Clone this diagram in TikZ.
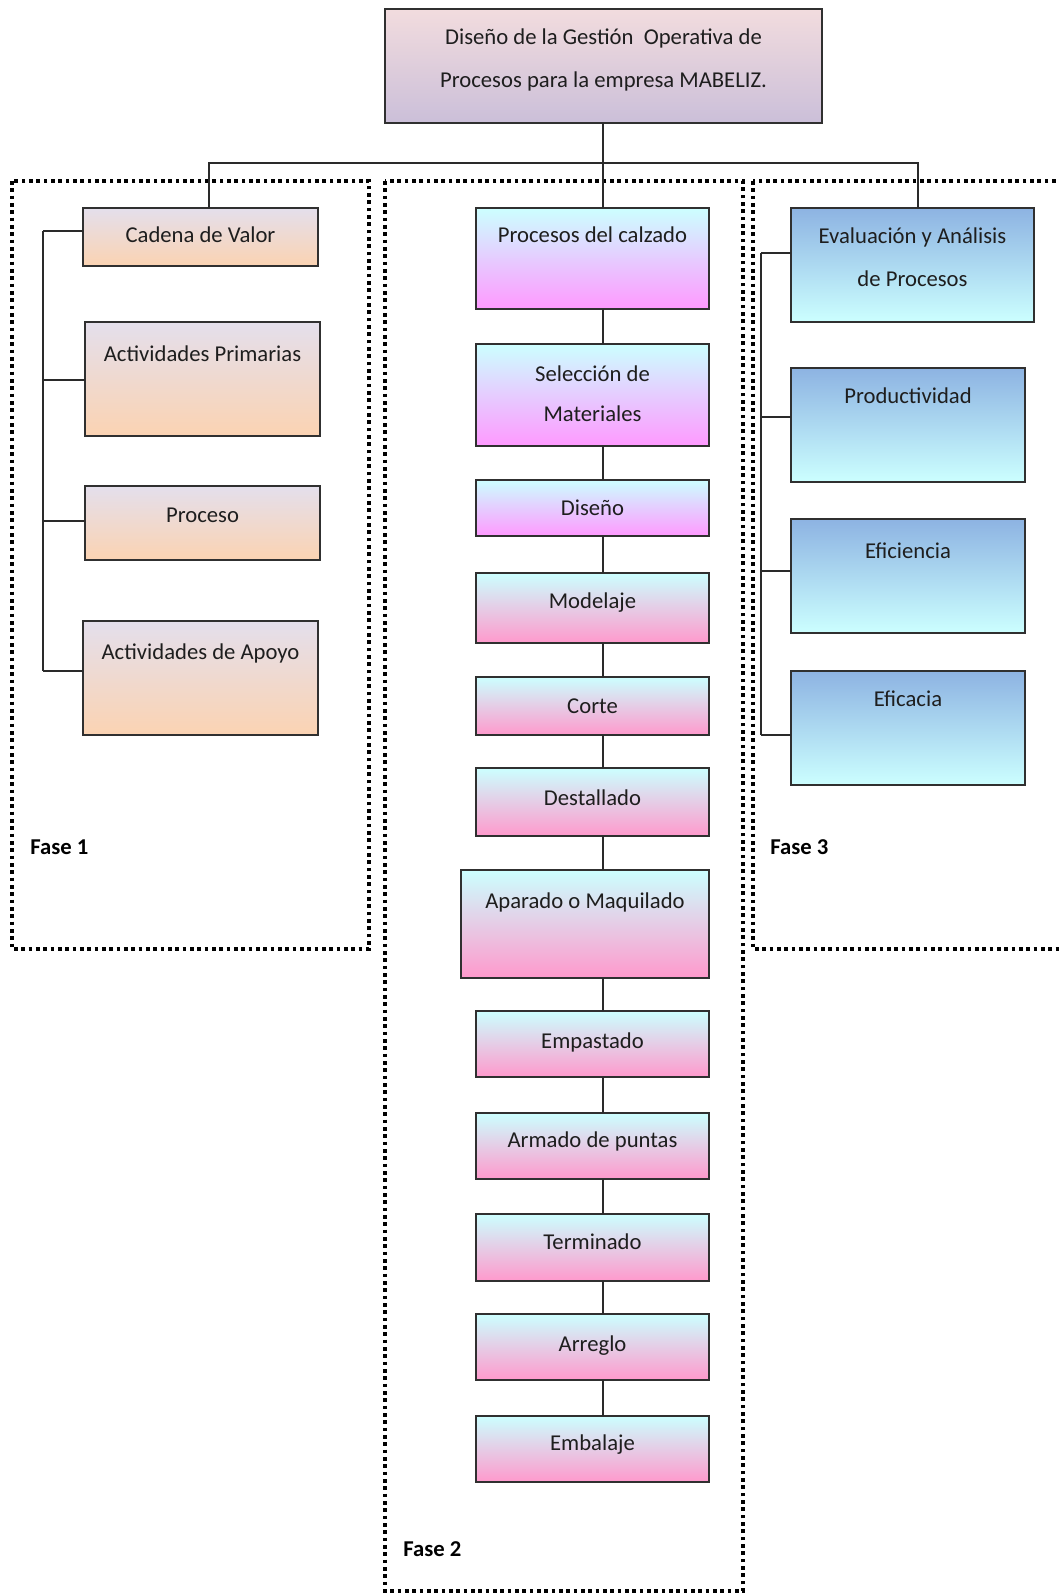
\documentclass[tikz,border=0pt]{standalone}
\usepackage{fontspec}
\setmainfont{Carlito}
\definecolor{ink}{HTML}{1E1E1E}
\definecolor{boxline}{HTML}{303030}
\definecolor{linkc}{HTML}{2A2A2A}
\definecolor{headtop}{HTML}{F2DCDE}
\definecolor{headbot}{HTML}{CBBFD9}
\definecolor{peachtop}{HTML}{E4DFEC}
\definecolor{peachbot}{HTML}{FBD3B2}
\definecolor{cyantop}{HTML}{CCFFFF}
\definecolor{magbot}{HTML}{FF99FF}
\definecolor{pinkbot}{HTML}{FF99CC}
\definecolor{bluetop}{HTML}{8DB3E2}
\definecolor{bluebot}{HTML}{CCFFFF}
\tikzset{
  box/.style={draw=boxline, line width=1pt, inner sep=0pt, outer sep=0pt},
  headbox/.style={box, top color=headtop, bottom color=headbot},
  valuebox/.style={box, top color=peachtop, bottom color=peachbot},
  designbox/.style={box, top color=cyantop, bottom color=magbot},
  makebox/.style={box, top color=cyantop, bottom color=pinkbot},
  evalbox/.style={box, top color=bluetop, bottom color=bluebot},
  lbl/.style={font=\fontsize{17}{20}\selectfont, text=ink, inner sep=0pt, anchor=base},
  phase/.style={font=\fontsize{17}{20}\selectfont\bfseries, text=black, inner sep=0pt, anchor=base west},
  link/.style={draw=linkc, line width=1pt},
  zone/.style={draw=black, line width=2.7pt, dash pattern=on 2.7pt off 2.8pt},
}
% box: name, left, top, right, bottom, style
\newcommand\stagebox[6]{%
  \node[#6, anchor=north west, minimum width={(#4-#2)*0.75pt},
        minimum height={(#5-#3)*0.75pt}] (#1) at (#2,#3) {};}
% caption of a box: name, baseline y, text
\newcommand\stagetext[3]{%
  \node[lbl] (#1-t) at (#1.north |- 0,#2) {#3};}
\begin{document}
\begin{tikzpicture}[x=0.75pt,y=-0.75pt]
\useasboundingbox (0,0) rectangle (1059,1594);
\clip (0,0) rectangle (1059,1594);

% phase frames
\draw[zone] (12,181) rectangle (369,949);
\draw[zone] (385,181) rectangle (743,1591);
\draw[zone] (753,181) rectangle (1075,949);

% title
\stagebox{head}{385}{9}{822}{123}{headbox}
\node[lbl] (head-t) at (603.5,45)
  {\begin{tabular}[t]{@{}c@{}}Diseño de la Gestión~ Operativa de\\[12pt]Procesos para la empresa MABELIZ.\end{tabular}};

% phase 1
\stagebox{cadena}{83}{208}{318}{266}{valuebox}
\stagebox{primarias}{85}{322}{320}{436}{valuebox}
\stagebox{proceso}{85}{486}{320}{560}{valuebox}
\stagebox{apoyo}{83}{621}{318}{735}{valuebox}
\stagetext{cadena}{243}{Cadena de Valor}
\stagetext{primarias}{361}{Actividades Primarias}
\stagetext{proceso}{522}{Proceso}
\stagetext{apoyo}{659}{Actividades de Apoyo}

% phase 2
\stagebox{calzado}{476}{208}{709}{309}{designbox}
\stagebox{seleccion}{476}{344}{709}{446}{designbox}
\stagebox{diseno}{476}{480}{709}{536}{designbox}
\stagebox{modelaje}{476}{573}{709}{643}{makebox}
\stagebox{corte}{476}{677}{709}{735}{makebox}
\stagebox{destallado}{476}{768}{709}{836}{makebox}
\stagebox{aparado}{461}{870}{709}{978}{makebox}
\stagebox{empastado}{476}{1011}{709}{1077}{makebox}
\stagebox{armado}{476}{1113}{709}{1179}{makebox}
\stagebox{terminado}{476}{1214}{709}{1281}{makebox}
\stagebox{arreglo}{476}{1314}{709}{1380}{makebox}
\stagebox{embalaje}{476}{1416}{709}{1482}{makebox}
\stagetext{calzado}{243}{Procesos del calzado}
\node[lbl] (seleccion-t) at (seleccion.north |- 0,381)
  {\begin{tabular}[t]{@{}c@{}}Selección de\\[10pt]Materiales\end{tabular}};
\stagetext{diseno}{515}{Diseño}
\stagetext{modelaje}{608}{Modelaje}
\stagetext{corte}{713}{Corte}
\stagetext{destallado}{805}{Destallado}
\stagetext{aparado}{908}{Aparado o Maquilado}
\stagetext{empastado}{1048}{Empastado}
\stagetext{armado}{1147}{Armado de puntas}
\stagetext{terminado}{1249}{Terminado}
\stagetext{arreglo}{1351}{Arreglo}
\stagetext{embalaje}{1450}{Embalaje}

% phase 3
\stagebox{evaluacion}{791}{208}{1034}{322}{evalbox}
\stagebox{productividad}{791}{368}{1025}{482}{evalbox}
\stagebox{eficiencia}{791}{519}{1025}{633}{evalbox}
\stagebox{eficacia}{791}{671}{1025}{785}{evalbox}
\node[lbl] (evaluacion-t) at (evaluacion.north |- 0,244)
  {\begin{tabular}[t]{@{}c@{}}Evaluación y Análisis\\[12pt]de Procesos\end{tabular}};
\stagetext{productividad}{403}{Productividad}
\stagetext{eficiencia}{558}{Eficiencia}
\stagetext{eficacia}{706}{Eficacia}

% phase labels
\node[phase] (fase1) at (30,854) {Fase 1};
\node[phase] (fase2) at (403,1556) {Fase 2};
\node[phase] (fase3) at (770,854) {Fase 3};

% tree connectors
\coordinate (spine) at (603,163);
\coordinate (left) at (209,163);
\coordinate (right) at (918,163);
\draw[link] (left |- cadena.north) -- (left) -- (right) -- (right |- evaluacion.north);
\draw[link] (head.south -| spine) -- (spine |- calzado.north);
\foreach \a/\b in {calzado/seleccion, seleccion/diseno, diseno/modelaje,
    modelaje/corte, corte/destallado, destallado/aparado, aparado/empastado,
    empastado/armado, armado/terminado, terminado/arreglo, arreglo/embalaje}
  \draw[link] (spine |- \a.south) -- (spine |- \b.north);

% phase 1 bus, with the height at which each branch meets its box
\coordinate (bus1) at (43,0);
\draw[link] (bus1 |- 0,231) -- (bus1 |- 0,671);
\foreach \n/\y in {cadena/231, primarias/380, proceso/521, apoyo/671}
  \draw[link] (bus1 |- 0,\y) -- (\n.west |- 0,\y);

% phase 3 bus
\coordinate (bus3) at (761,0);
\draw[link] (bus3 |- 0,253) -- (bus3 |- 0,735);
\foreach \n/\y in {evaluacion/253, productividad/417, eficiencia/571, eficacia/735}
  \draw[link] (bus3 |- 0,\y) -- (\n.west |- 0,\y);
\end{tikzpicture}
\end{document}
